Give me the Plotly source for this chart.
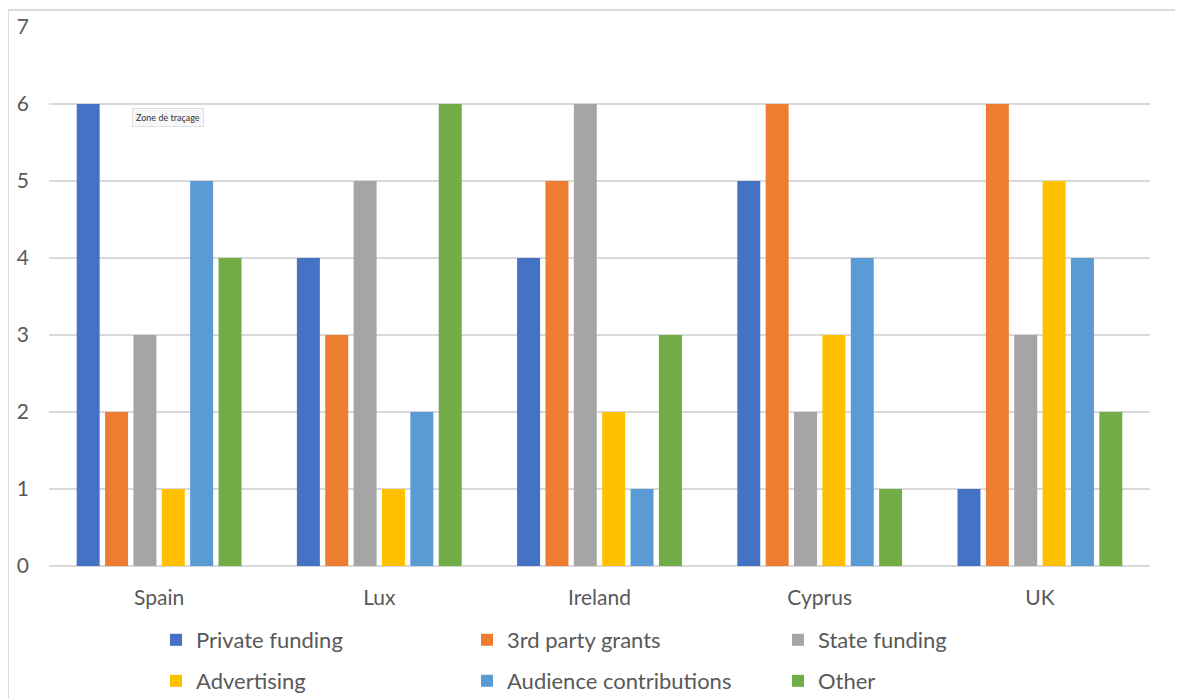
import plotly.graph_objects as go

countries = ["Spain", "Lux", "Ireland", "Cyprus", "UK"]
series_names = ["Private funding", "3rd party grants", "State funding",
                "Advertising", "Audience contributions", "Other"]
private_funding = [6, 4, 4, 5, 1]
third_party_grants = [2, 3, 5, 6, 6]
state_funding = [3, 5, 6, 2, 3]
advertising = [1, 1, 2, 3, 5]
audience_contributions = [5, 2, 1, 4, 4]
other = [4, 6, 3, 1, 2]
y_ticks = [0, 1, 2, 3, 4, 5, 6, 7]

colors = ["#4472C4", "#ED7D31", "#A5A5A5", "#FFC000", "#5B9BD5", "#70AD47"]
values = [private_funding, third_party_grants, state_funding,
          advertising, audience_contributions, other]

FONT = "Lato"
TXT = "#595959"

fig = go.Figure()
for i, (name, vals, col) in enumerate(zip(series_names, values, colors)):
    fig.add_trace(go.Bar(
        x=countries, y=vals, name=name, marker_color=col,
        marker_line_width=0,
        legend="legend" if i < 3 else "legend2",
    ))

# page body adds an 8px offset; work in reference pixels minus OFF
OFF = 8
W, H = 1183 - OFF, 698 - OFF
L, R, T, B = 49 - OFF, 1183 - 1150, 27 - OFF, 698 - 566
pw, ph = W - L - R, H - T - B

def px_x(x):
    return (x - OFF - L) / pw

def px_y(y):
    return (H - B - (y - OFF)) / ph

legend_common = dict(
    orientation="h", xanchor="left", yanchor="middle",
    font=dict(family=FONT, size=22, color=TXT),
    entrywidth=266, entrywidthmode="pixels",
    bgcolor="rgba(0,0,0,0)", itemwidth=30,
)

fig.update_layout(
    width=W, height=H,
    margin=dict(l=L, r=R, t=T, b=B, autoexpand=False),
    paper_bgcolor="white", plot_bgcolor="white",
    barmode="group", bargap=0.227, bargroupgap=0.19,
    font=dict(family=FONT, color=TXT),
    legend=dict(x=px_x(156), y=px_y(640), **legend_common),
    legend2=dict(x=px_x(156), y=px_y(681), **legend_common),
    xaxis=dict(
        showgrid=False, showline=False, zeroline=False, automargin=False,
        tickfont=dict(family=FONT, size=21, color=TXT),
        ticks="", ticklabelstandoff=17,
    ),
    yaxis=dict(
        range=[0, 7], tickvals=y_ticks, showgrid=True, automargin=False,
        gridcolor="#D9D9D9", gridwidth=1.5,
        zeroline=True, zerolinecolor="#D9D9D9", zerolinewidth=1.5,
        showline=False, ticks="",
        tickfont=dict(family=FONT, size=21, color=TXT),
        ticklabelstandoff=19,
    ),
    shapes=[
        dict(type="line", xref="paper", yref="paper",
             x0=px_x(8), x1=px_x(1190), y0=px_y(10), y1=px_y(10),
             line=dict(color="#D0D0D0", width=1.5)),
        dict(type="line", xref="paper", yref="paper",
             x0=px_x(8), x1=px_x(8), y0=px_y(10), y1=px_y(705),
             line=dict(color="#D0D0D0", width=1.5)),
    ],
    annotations=[
        dict(text="Zone de traçage", xref="paper", yref="paper",
             x=px_x(168), y=px_y(118), xanchor="center", yanchor="middle",
             showarrow=False,
             font=dict(family=FONT, size=9, color="#333333"),
             bgcolor="#F7F7F7", bordercolor="#E0E0E0", borderwidth=1,
             borderpad=3),
    ],
)

fig.write_html("out.html")
